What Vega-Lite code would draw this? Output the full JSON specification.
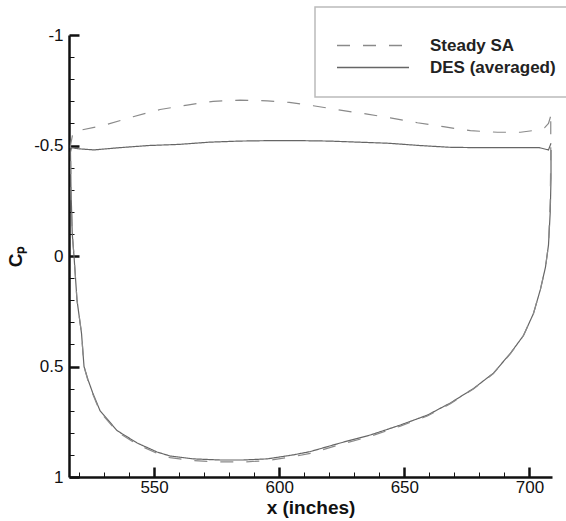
{
  "$schema": "https://vega.github.io/schema/vega-lite/v6.json",
  "width": 483,
  "height": 442,
  "autosize": {"type": "none"},
  "padding": {"left": 69, "top": 35, "right": 14, "bottom": 44},
  "background": "white",
  "config": {
    "view": {"stroke": null},
    "font": "Liberation Sans",
    "axis": {"grid": false}
  },
  "datasets": {
    "cp": [
      {"s": "DES (averaged)", "i": 1, "x": 708.6, "cp": -0.51},
      {"s": "DES (averaged)", "i": 2, "x": 707.6, "cp": -0.48},
      {"s": "DES (averaged)", "i": 3, "x": 704, "cp": -0.49},
      {"s": "DES (averaged)", "i": 4, "x": 692, "cp": -0.49},
      {"s": "DES (averaged)", "i": 5, "x": 680, "cp": -0.49},
      {"s": "DES (averaged)", "i": 6, "x": 668, "cp": -0.492},
      {"s": "DES (averaged)", "i": 7, "x": 656, "cp": -0.50},
      {"s": "DES (averaged)", "i": 8, "x": 644, "cp": -0.51},
      {"s": "DES (averaged)", "i": 9, "x": 632, "cp": -0.515},
      {"s": "DES (averaged)", "i": 10, "x": 620, "cp": -0.52},
      {"s": "DES (averaged)", "i": 11, "x": 608, "cp": -0.522},
      {"s": "DES (averaged)", "i": 12, "x": 596, "cp": -0.522},
      {"s": "DES (averaged)", "i": 13, "x": 584, "cp": -0.52},
      {"s": "DES (averaged)", "i": 14, "x": 572, "cp": -0.515},
      {"s": "DES (averaged)", "i": 15, "x": 560, "cp": -0.505},
      {"s": "DES (averaged)", "i": 16, "x": 548, "cp": -0.50},
      {"s": "DES (averaged)", "i": 17, "x": 536, "cp": -0.49},
      {"s": "DES (averaged)", "i": 18, "x": 526, "cp": -0.48},
      {"s": "DES (averaged)", "i": 19, "x": 520, "cp": -0.485},
      {"s": "DES (averaged)", "i": 20, "x": 517, "cp": -0.49},
      {"s": "DES (averaged)", "i": 21, "x": 516.6, "cp": -0.47},
      {"s": "DES (averaged)", "i": 22, "x": 516.8, "cp": -0.3},
      {"s": "DES (averaged)", "i": 23, "x": 517.3, "cp": -0.1},
      {"s": "DES (averaged)", "i": 24, "x": 518, "cp": 0.0},
      {"s": "DES (averaged)", "i": 25, "x": 519.2, "cp": 0.2},
      {"s": "DES (averaged)", "i": 26, "x": 521, "cp": 0.35},
      {"s": "DES (averaged)", "i": 27, "x": 522, "cp": 0.5},
      {"s": "DES (averaged)", "i": 28, "x": 523.6, "cp": 0.56},
      {"s": "DES (averaged)", "i": 29, "x": 525.5, "cp": 0.62},
      {"s": "DES (averaged)", "i": 30, "x": 528.4, "cp": 0.70},
      {"s": "DES (averaged)", "i": 31, "x": 535.2, "cp": 0.79},
      {"s": "DES (averaged)", "i": 32, "x": 543.2, "cp": 0.846},
      {"s": "DES (averaged)", "i": 33, "x": 551.2, "cp": 0.887},
      {"s": "DES (averaged)", "i": 34, "x": 556.4, "cp": 0.905},
      {"s": "DES (averaged)", "i": 35, "x": 565.6, "cp": 0.918},
      {"s": "DES (averaged)", "i": 36, "x": 576.4, "cp": 0.923},
      {"s": "DES (averaged)", "i": 37, "x": 585.6, "cp": 0.923},
      {"s": "DES (averaged)", "i": 38, "x": 595.2, "cp": 0.918},
      {"s": "DES (averaged)", "i": 39, "x": 605.6, "cp": 0.90},
      {"s": "DES (averaged)", "i": 40, "x": 612.4, "cp": 0.885},
      {"s": "DES (averaged)", "i": 41, "x": 624.4, "cp": 0.846},
      {"s": "DES (averaged)", "i": 42, "x": 636.4, "cp": 0.81},
      {"s": "DES (averaged)", "i": 43, "x": 648.4, "cp": 0.765},
      {"s": "DES (averaged)", "i": 44, "x": 659.2, "cp": 0.72},
      {"s": "DES (averaged)", "i": 45, "x": 668.4, "cp": 0.665},
      {"s": "DES (averaged)", "i": 46, "x": 677.6, "cp": 0.60},
      {"s": "DES (averaged)", "i": 47, "x": 685.6, "cp": 0.53},
      {"s": "DES (averaged)", "i": 48, "x": 692.4, "cp": 0.44},
      {"s": "DES (averaged)", "i": 49, "x": 697.6, "cp": 0.36},
      {"s": "DES (averaged)", "i": 50, "x": 701.6, "cp": 0.26},
      {"s": "DES (averaged)", "i": 51, "x": 704.4, "cp": 0.15},
      {"s": "DES (averaged)", "i": 52, "x": 706.4, "cp": 0.05},
      {"s": "DES (averaged)", "i": 53, "x": 707.6, "cp": -0.05},
      {"s": "DES (averaged)", "i": 54, "x": 708.3, "cp": -0.2},
      {"s": "DES (averaged)", "i": 55, "x": 708.6, "cp": -0.35},
      {"s": "DES (averaged)", "i": 56, "x": 708.6, "cp": -0.48},

      {"s": "Steady SA", "i": 1, "x": 708.4, "cp": -0.63},
      {"s": "Steady SA", "i": 2, "x": 707.6, "cp": -0.60},
      {"s": "Steady SA", "i": 3, "x": 706, "cp": -0.58},
      {"s": "Steady SA", "i": 4, "x": 704.4, "cp": -0.572},
      {"s": "Steady SA", "i": 5, "x": 696.4, "cp": -0.56},
      {"s": "Steady SA", "i": 6, "x": 687.2, "cp": -0.56},
      {"s": "Steady SA", "i": 7, "x": 676.4, "cp": -0.567},
      {"s": "Steady SA", "i": 8, "x": 665.6, "cp": -0.585},
      {"s": "Steady SA", "i": 9, "x": 655.2, "cp": -0.603},
      {"s": "Steady SA", "i": 10, "x": 644.4, "cp": -0.625},
      {"s": "Steady SA", "i": 11, "x": 635.2, "cp": -0.642},
      {"s": "Steady SA", "i": 12, "x": 624.4, "cp": -0.66},
      {"s": "Steady SA", "i": 13, "x": 613.6, "cp": -0.68},
      {"s": "Steady SA", "i": 14, "x": 604, "cp": -0.695},
      {"s": "Steady SA", "i": 15, "x": 595.2, "cp": -0.702},
      {"s": "Steady SA", "i": 16, "x": 584.4, "cp": -0.705},
      {"s": "Steady SA", "i": 17, "x": 573.6, "cp": -0.70},
      {"s": "Steady SA", "i": 18, "x": 563.2, "cp": -0.683},
      {"s": "Steady SA", "i": 19, "x": 552.4, "cp": -0.663},
      {"s": "Steady SA", "i": 20, "x": 541.6, "cp": -0.63},
      {"s": "Steady SA", "i": 21, "x": 529.6, "cp": -0.59},
      {"s": "Steady SA", "i": 22, "x": 520, "cp": -0.568},
      {"s": "Steady SA", "i": 23, "x": 517.6, "cp": -0.56},
      {"s": "Steady SA", "i": 24, "x": 516.6, "cp": -0.5},
      {"s": "Steady SA", "i": 25, "x": 516.8, "cp": -0.3},
      {"s": "Steady SA", "i": 26, "x": 517.3, "cp": -0.1},
      {"s": "Steady SA", "i": 27, "x": 518, "cp": 0.0},
      {"s": "Steady SA", "i": 28, "x": 519.2, "cp": 0.2},
      {"s": "Steady SA", "i": 29, "x": 521, "cp": 0.35},
      {"s": "Steady SA", "i": 30, "x": 522, "cp": 0.5},
      {"s": "Steady SA", "i": 31, "x": 523.6, "cp": 0.565},
      {"s": "Steady SA", "i": 32, "x": 525.5, "cp": 0.625},
      {"s": "Steady SA", "i": 33, "x": 528.4, "cp": 0.705},
      {"s": "Steady SA", "i": 34, "x": 535.2, "cp": 0.795},
      {"s": "Steady SA", "i": 35, "x": 543.2, "cp": 0.852},
      {"s": "Steady SA", "i": 36, "x": 551.2, "cp": 0.893},
      {"s": "Steady SA", "i": 37, "x": 556.4, "cp": 0.912},
      {"s": "Steady SA", "i": 38, "x": 565.6, "cp": 0.926},
      {"s": "Steady SA", "i": 39, "x": 576.4, "cp": 0.932},
      {"s": "Steady SA", "i": 40, "x": 585.6, "cp": 0.932},
      {"s": "Steady SA", "i": 41, "x": 595.2, "cp": 0.926},
      {"s": "Steady SA", "i": 42, "x": 605.6, "cp": 0.908},
      {"s": "Steady SA", "i": 43, "x": 612.4, "cp": 0.893},
      {"s": "Steady SA", "i": 44, "x": 624.4, "cp": 0.853},
      {"s": "Steady SA", "i": 45, "x": 636.4, "cp": 0.816},
      {"s": "Steady SA", "i": 46, "x": 648.4, "cp": 0.77},
      {"s": "Steady SA", "i": 47, "x": 659.2, "cp": 0.724},
      {"s": "Steady SA", "i": 48, "x": 668.4, "cp": 0.668},
      {"s": "Steady SA", "i": 49, "x": 677.6, "cp": 0.602},
      {"s": "Steady SA", "i": 50, "x": 685.6, "cp": 0.532},
      {"s": "Steady SA", "i": 51, "x": 692.4, "cp": 0.442},
      {"s": "Steady SA", "i": 52, "x": 697.6, "cp": 0.36},
      {"s": "Steady SA", "i": 53, "x": 701.6, "cp": 0.26},
      {"s": "Steady SA", "i": 54, "x": 704.4, "cp": 0.15},
      {"s": "Steady SA", "i": 55, "x": 706.4, "cp": 0.05},
      {"s": "Steady SA", "i": 56, "x": 707.6, "cp": -0.05},
      {"s": "Steady SA", "i": 57, "x": 708.3, "cp": -0.25},
      {"s": "Steady SA", "i": 58, "x": 708.5, "cp": -0.45},
      {"s": "Steady SA", "i": 59, "x": 708.5, "cp": -0.62}
    ]
  },
  "data": {"name": "cp"},
  "layer": [
    {
      "transform": [{"filter": "datum.s === 'DES (averaged)'"}],
      "mark": {"type": "line", "strokeWidth": 1.2, "clip": true},
      "encoding": {
        "x": {
          "field": "x", "type": "quantitative",
          "scale": {"domain": [516, 709], "nice": false, "zero": false},
          "axis": {
            "orient": "bottom",
            "values": [550, 600, 650, 700],
            "title": "x (inches)",
            "titleFont": "Liberation Sans", "titleFontSize": 19, "titleFontWeight": "bold", "titleColor": "#111",
            "titlePadding": 3,
            "labelFont": "Liberation Sans", "labelFontSize": 17, "labelColor": "#111",
            "labelPadding": 12,
            "labelExpr": "datum.value + ''",
            "domainColor": "#111", "domainWidth": 2.5,
            "tickColor": "#111", "tickWidth": 2.5, "tickSize": -10
          }
        },
        "y": {
          "field": "cp", "type": "quantitative",
          "scale": {"domain": [-1, 1], "reverse": true, "nice": false, "zero": false},
          "axis": {
            "orient": "left",
            "values": [-1, -0.5, 0, 0.5, 1],
            "title": "Cₚ",
            "titleFont": "Liberation Sans", "titleFontSize": 19, "titleFontWeight": "bold", "titleColor": "#111",
            "titlePadding": 8,
            "labelFont": "Liberation Sans", "labelFontSize": 17, "labelColor": "#111",
            "labelPadding": 16,
            "labelExpr": "datum.value + ''",
            "domainColor": "#111", "domainWidth": 2.5,
            "tickColor": "#111", "tickWidth": 2.5, "tickSize": -10
          }
        },
        "order": {"field": "i", "type": "quantitative"},
        "color": {
          "field": "s", "type": "nominal",
          "scale": {"domain": ["Steady SA", "DES (averaged)"], "range": ["#8a8a8a", "#666666"]},
          "legend": {
            "orient": "none", "legendX": 246, "legendY": -28,
            "title": " ", "titleFontSize": 5, "titlePadding": 4,
            "padding": 21,
            "strokeColor": "#bbbbbb", "fillColor": "white",
            "symbolType": "stroke", "symbolSize": 5184, "symbolStrokeWidth": 1.3,
            "clipHeight": 17,
            "labelFont": "Liberation Sans", "labelFontSize": 17, "labelFontWeight": "bold", "labelColor": "#222",
            "labelOffset": 20, "rowPadding": 4, "labelLimit": 300,
            "encode": {"legend": {"update": {"strokeWidth": {"value": 1.5}}}}
          }
        },
        "strokeDash": {
          "field": "s", "type": "nominal",
          "scale": {"domain": ["Steady SA", "DES (averaged)"], "range": [[13, 13], [1, 0]]},
          "legend": {
            "orient": "none", "legendX": 246, "legendY": -28,
            "title": " ", "titleFontSize": 5, "titlePadding": 4,
            "padding": 21,
            "strokeColor": "#bbbbbb", "fillColor": "white",
            "symbolType": "stroke", "symbolSize": 5184, "symbolStrokeWidth": 1.3,
            "clipHeight": 17,
            "labelFont": "Liberation Sans", "labelFontSize": 17, "labelFontWeight": "bold", "labelColor": "#222",
            "labelOffset": 20, "rowPadding": 4, "labelLimit": 300,
            "encode": {"legend": {"update": {"strokeWidth": {"value": 1.5}}}}
          }
        }
      }
    },
    {
      "transform": [{"filter": "datum.s === 'Steady SA'"}],
      "mark": {"type": "line", "strokeWidth": 1.2, "clip": true},
      "encoding": {
        "x": {
          "field": "x", "type": "quantitative",
          "scale": {"domain": [516, 709], "nice": false, "zero": false},
          "axis": {
            "orient": "bottom",
            "values": [520, 530, 540, 560, 570, 580, 590, 610, 620, 630, 640, 660, 670, 680, 690, 700],
            "title": null, "labels": false, "domain": false,
            "tickColor": "#111", "tickWidth": 1, "tickSize": -5
          }
        },
        "y": {
          "field": "cp", "type": "quantitative",
          "scale": {"domain": [-1, 1], "reverse": true, "nice": false, "zero": false},
          "axis": {
            "orient": "left",
            "values": [-0.9, -0.8, -0.7, -0.6, -0.4, -0.3, -0.2, -0.1, 0.1, 0.2, 0.3, 0.4, 0.6, 0.7, 0.8, 0.9],
            "title": null, "labels": false, "domain": false,
            "tickColor": "#111", "tickWidth": 1, "tickSize": -5
          }
        },
        "order": {"field": "i", "type": "quantitative"},
        "color": {"field": "s", "type": "nominal"},
        "strokeDash": {"field": "s", "type": "nominal"}
      }
    }
  ],
  "resolve": {"axis": {"x": "independent", "y": "independent"}}
}
